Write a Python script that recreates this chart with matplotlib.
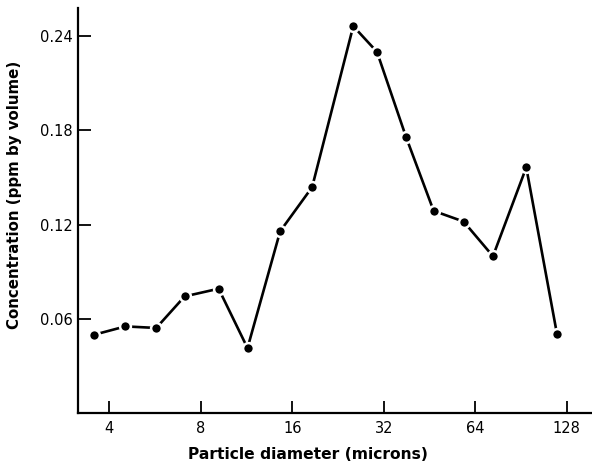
import numpy as np
import matplotlib.pyplot as plt
from matplotlib.ticker import FixedLocator, NullLocator

# particle diameter (microns) and concentration (ppm by volume)
diameter = [3.57, 4.52, 5.71, 7.08, 9.16, 11.4, 14.6, 18.6,
            25.4, 30.4, 37.9, 46.7, 58.6, 73.2, 94.2, 118.9]
concentration = [0.0498, 0.0551, 0.0541, 0.0742, 0.0791, 0.0413, 0.1157, 0.1438,
                 0.2464, 0.2300, 0.1757, 0.1287, 0.1219, 0.0998, 0.1564, 0.0502]
x_ticks = [4, 8, 16, 32, 64, 128]
y_ticks = [0.06, 0.12, 0.18, 0.24]
y_tick_labels = ["0.06", "0.12", "0.18", "0.24"]

fig = plt.figure(figsize=(5.92, 4.66), dpi=100)
ax = fig.add_axes([0.132, 0.114, 0.868, 0.869])

# line first, then markers with white edges to leave the small gap
ax.plot(diameter, concentration, color='black', linewidth=1.9, zorder=2)
ax.plot(diameter, concentration, linestyle='none', marker='o', markersize=7.8,
        markerfacecolor='black', markeredgecolor='white', markeredgewidth=1.8,
        zorder=3, clip_on=False)

ax.set_xscale('log', base=2)
ax.set_xlim(3.16, 155)
ax.set_ylim(0, 0.258)

ax.xaxis.set_major_locator(FixedLocator(x_ticks))
ax.xaxis.set_minor_locator(NullLocator())
ax.set_xticklabels([str(t) for t in x_ticks])
ax.set_yticks(y_ticks)
ax.set_yticklabels(y_tick_labels)

for side in ['top', 'right']:
    ax.spines[side].set_visible(False)
for side in ['left', 'bottom']:
    ax.spines[side].set_linewidth(1.6)

ax.tick_params(axis='both', direction='in', length=9, width=1.3,
               labelsize=10.5, pad=6)
ax.tick_params(axis='y', pad=4)

ax.set_xlabel("Particle diameter (microns)", fontsize=11.2, fontweight='bold')
ax.set_ylabel("Concentration (ppm by volume)", fontsize=10.8, fontweight='bold')
ax.xaxis.set_label_coords(0.447, -0.085)
ax.yaxis.set_label_coords(-0.11, 0.538)

fig.savefig("out.png", dpi=100)
